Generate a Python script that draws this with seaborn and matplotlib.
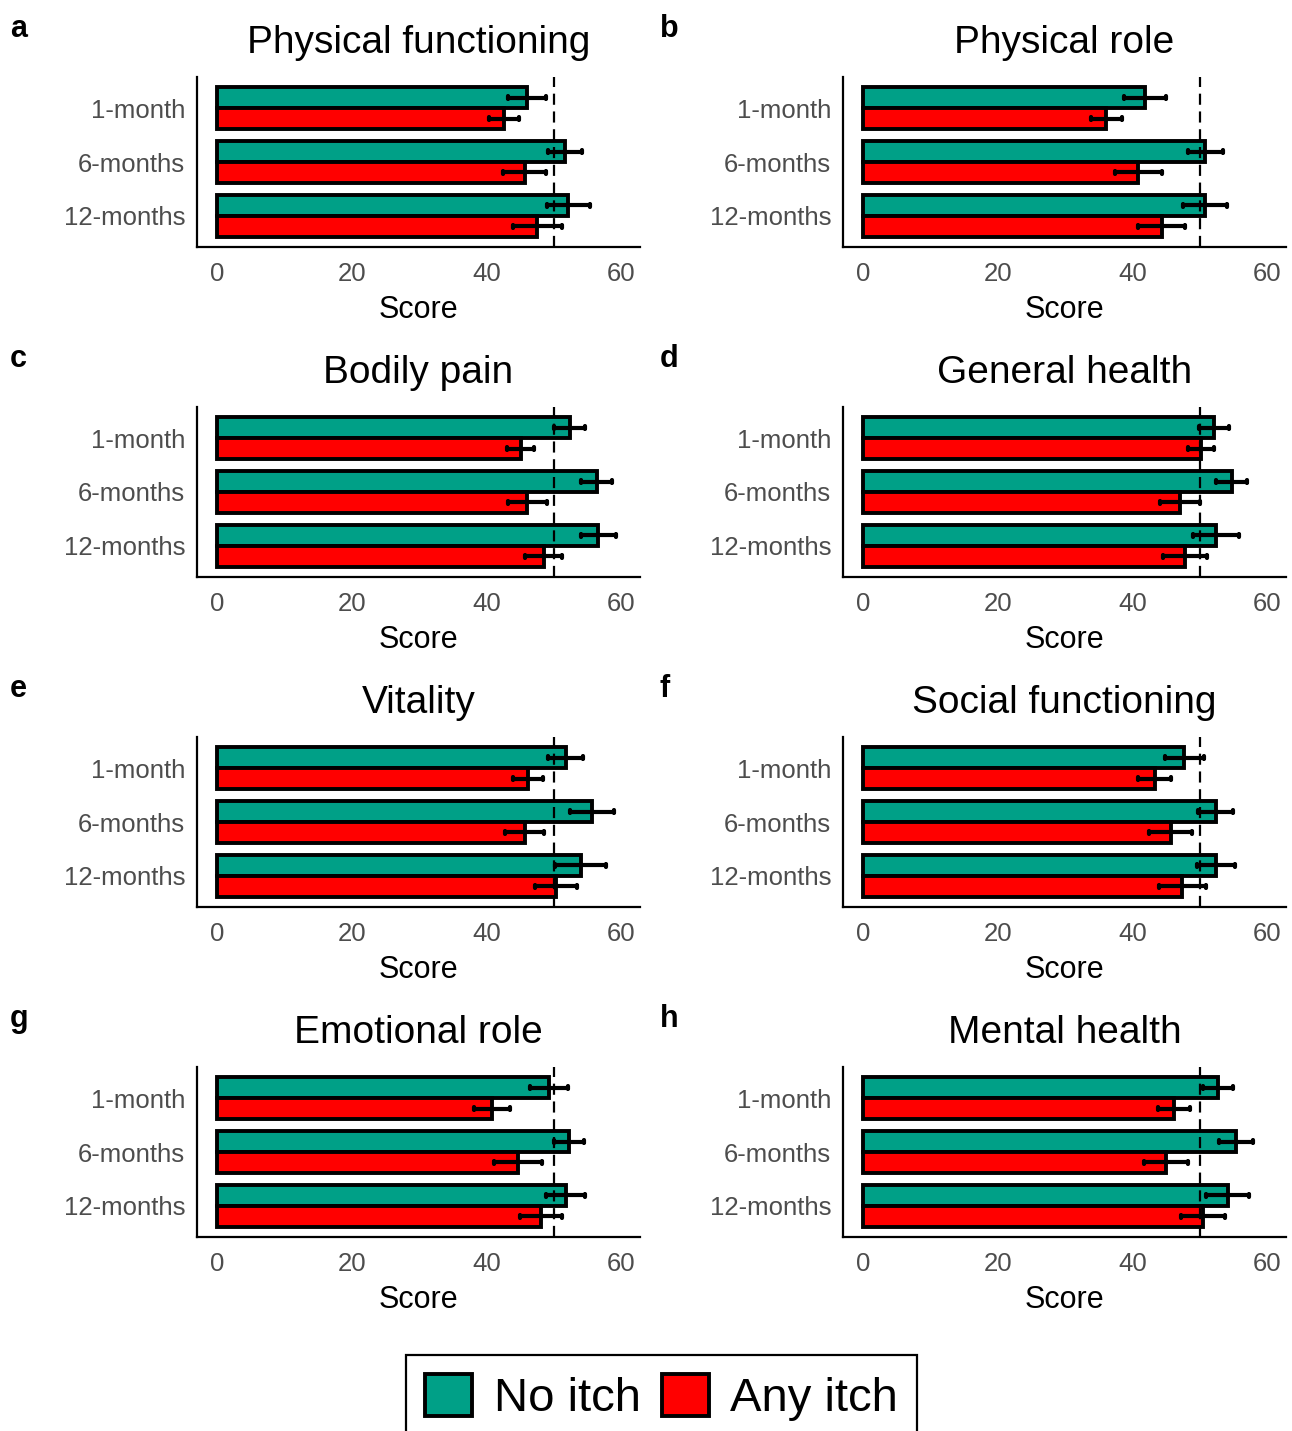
import matplotlib
matplotlib.use("Agg")
import matplotlib.pyplot as plt
from matplotlib.patches import Patch
import seaborn as sns
import pandas as pd

# ---------------- data ----------------
categories = ["1-month", "6-months", "12-months"]
groups = ["No itch", "Any itch"]
titles = ["Physical functioning", "Physical role", "Bodily pain", "General health",
          "Vitality", "Social functioning", "Emotional role", "Mental health"]
letters = ["a", "b", "c", "d", "e", "f", "g", "h"]

no_itch_mean = [
    [46.0, 51.7, 52.2],
    [41.9, 50.8, 50.8],
    [52.4, 56.4, 56.6],
    [52.1, 54.8, 52.4],
    [51.8, 55.7, 54.0],
    [47.7, 52.4, 52.4],
    [49.3, 52.3, 51.8],
    [52.7, 55.4, 54.2],
]
no_itch_err = [
    [2.8, 2.5, 3.2],
    [3.1, 2.6, 3.3],
    [2.3, 2.3, 2.6],
    [2.2, 2.3, 3.4],
    [2.6, 3.2, 3.8],
    [2.9, 2.6, 2.8],
    [2.8, 2.2, 2.9],
    [2.2, 2.5, 3.2],
]
any_itch_mean = [
    [42.6, 45.7, 47.6],
    [36.1, 40.9, 44.4],
    [45.1, 46.1, 48.5],
    [50.2, 47.1, 47.8],
    [46.2, 45.7, 50.3],
    [43.3, 45.7, 47.4],
    [40.8, 44.7, 48.1],
    [46.2, 45.0, 50.5],
]
any_itch_err = [
    [2.2, 3.2, 3.6],
    [2.3, 3.5, 3.5],
    [2.0, 2.9, 2.7],
    [1.9, 3.0, 3.3],
    [2.2, 2.9, 3.1],
    [2.4, 3.2, 3.5],
    [2.7, 3.6, 3.1],
    [2.4, 3.3, 3.3],
]
reference_line = 50
x_ticks = [0, 20, 40, 60]

colors = {"No itch": "#00A087", "Any itch": "#FF0000"}

# --------------- build long table (mean +/- err -> min/max interval) ---------------
rows = []
for p, title in enumerate(titles):
    for g, (means, errs) in zip(groups, [(no_itch_mean, no_itch_err), (any_itch_mean, any_itch_err)]):
        for c, cat in enumerate(categories):
            m, e = means[p][c], errs[p][c]
            rows.append({"panel": title, "group": g, "time": cat, "score": m - e})
            rows.append({"panel": title, "group": g, "time": cat, "score": m + e})
df = pd.DataFrame(rows)

# --------------- figure ---------------
sns.set_style("white")
plt.rcParams["font.family"] = ["Liberation Sans", "DejaVu Sans"]
plt.rcParams["text.color"] = "black"

W, H = 1292, 1431
fig = plt.figure(figsize=(W / 100, H / 100), dpi=100)

col_x = [197, 843]
row_top = [77, 407, 737, 1067]
ax_w, ax_h = 443, 170
letter_x = [10, 660]

for p, title in enumerate(titles):
    r, c = divmod(p, 2)
    left = col_x[c] / W
    bottom = 1 - (row_top[r] + ax_h) / H
    ax = fig.add_axes([left, bottom, ax_w / W, ax_h / H])
    sub = df[df["panel"] == title]
    sns.barplot(data=sub, x="score", y="time", hue="group", order=categories,
                hue_order=groups, palette=colors, orient="h", ax=ax, saturation=1,
                errorbar=("pi", 100), capsize=0.1, width=0.78,
                edgecolor="black", linewidth=2.8,
                err_kws={"color": "black", "linewidth": 3.0}, legend=False)
    ax.axvline(reference_line, color="black", linestyle=(0, (5, 3)), linewidth=1.6, zorder=5)
    ax.set_xlim(-2.97, 62.83)
    ax.set_ylim(2.58, -0.58)
    ax.set_xticks(x_ticks)
    ax.set_xlabel("Score", fontsize=22, labelpad=7, color="black")
    ax.set_ylabel("")
    ax.set_title(title, fontsize=28, pad=17, color="black")
    for s in ["top", "right"]:
        ax.spines[s].set_visible(False)
    for s in ["left", "bottom"]:
        ax.spines[s].set_color("black")
        ax.spines[s].set_linewidth(1.6)
    ax.tick_params(axis="both", which="major", length=4.5, width=1.5, color="black",
                   labelcolor="#4D4D4D", labelsize=18.5)
    ax.tick_params(axis="y", pad=4)
    ax.tick_params(axis="x", pad=6)
    fig.text(letter_x[c] / W, 1 - (row_top[r] - 40) / H, letters[p], fontsize=22,
             fontweight="bold", va="baseline", ha="left", color="black")

handles = [Patch(facecolor=colors[g], edgecolor="black", linewidth=2.8) for g in groups]
leg = fig.legend(handles, groups, loc="upper right", bbox_to_anchor=(917 / W, 1 - 1355 / H),
                 ncol=2, fontsize=34, frameon=True, fancybox=False, framealpha=1,
                 edgecolor="black", handlelength=1.0, handleheight=1.0,
                 handletextpad=0.45, columnspacing=0.45, borderpad=0.4,
                 borderaxespad=0, labelcolor="black")
leg.get_frame().set_linewidth(1.6)

fig.savefig("out.png", dpi=100)
